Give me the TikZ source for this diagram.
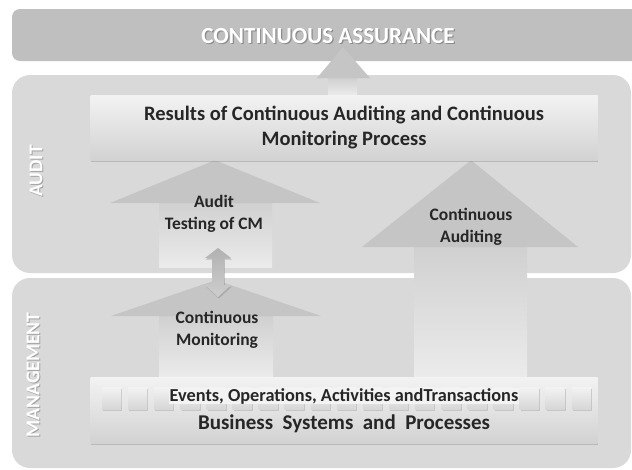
\documentclass[tikz,border=0pt]{standalone}
\usepackage{fontspec}
\setmainfont{Carlito}
\usetikzlibrary{shadows, calc}

\definecolor{bandgray}{HTML}{D9D9D9}
\definecolor{topgray}{HTML}{BFBFBF}
\definecolor{headgray}{HTML}{C5C5C5}
\definecolor{shaftgray}{HTML}{EBEBEB}
\definecolor{boxtop}{HTML}{F3F3F3}
\definecolor{boxbot}{HTML}{D2D2D2}
\definecolor{inkgray}{HTML}{262626}
\definecolor{shadegray}{HTML}{8C8C8C}

\pgfdeclarelayer{bands}
\pgfdeclarelayer{arrows}
\pgfsetlayers{bands,arrows,main}

\begin{document}
\begin{tikzpicture}[x=1pt, y=-1pt,
  band/.style={fill=bandgray, rounded corners=18pt},
  panel/.style={top color=boxtop, bottom color=boxbot, minimum width=507pt, inner sep=0pt,
    drop shadow={shadow xshift=0.5pt, shadow yshift=-2pt, opacity=0.35}},
  slot/.style={top color=boxtop, bottom color=boxbot!90!white, minimum width=19pt, minimum height=22pt, inner sep=0pt,
    drop shadow={shadow xshift=1.2pt, shadow yshift=-1.5pt, opacity=0.3}},
  arrowtxt/.style={font=\bfseries\fontsize{17.5}{22}\selectfont, text=inkgray, align=center},
  sidetxt/.style={rotate=90, font=\bfseries\fontsize{19.5}{22}\selectfont},
  headfill/.style={fill=headgray},
  shaftfill/.style={top color=headgray!70!shaftgray, bottom color=shaftgray}]

\useasboundingbox (0,0) rectangle (632,469);
\clip (0,0) rectangle (632,469);

% the three bands
\begin{pgfonlayer}{bands}
\fill[topgray, rounded corners=8pt] (12,9) rectangle (660,61);
\fill[band] (12,75) rectangle (631,273);
\fill[band] (12,278) rectangle (631,468);
\end{pgfonlayer}

% white titles with a dark copy behind them
\node[font=\bfseries\fontsize{23}{26}\selectfont, text=shadegray] (assursh) at (329.2,37.2) {CONTINUOUS ASSURANCE};
\node[font=\bfseries\fontsize{23}{26}\selectfont, text=white] (assur) at (328,36) {CONTINUOUS ASSURANCE};
\node[sidetxt, text=shadegray!80] (auditsh) at (37,172) {AUDIT};
\node[sidetxt, text=white] (audit) at (36,171) {AUDIT};
\node[sidetxt, text=shadegray!80] (mgmtsh) at (34,376) {MANAGEMENT};
\node[sidetxt, text=white] (mgmt) at (33,375) {MANAGEMENT};

% results box
\node[panel, minimum height=65pt] (res) at (344,127.5) {};
\node[arrowtxt, font=\bfseries\fontsize{20.5}{25}\selectfont] (restxt) at (res)
  {Results of Continuous Auditing and Continuous\\Monitoring Process};

% business box with its row of slots
\node[panel, minimum height=66pt] (biz) at (344,410) {};
\foreach \i in {0,...,18}
  \node[slot] (s\i) at (111.5+26.1*\i,398) {};
\node[font=\bfseries\fontsize{18.3}{20}\selectfont, text=inkgray, fill=boxtop, inner sep=0.5pt] (evt) at (344,396)
  {Events, Operations, Activities andTransactions};
\node[font=\bfseries\fontsize{21}{24}\selectfont, text=inkgray] (bsp) at (344,424)
  {Business\ \ Systems\ \ and\ \ Processes};

% block arrows
\begin{pgfonlayer}{arrows}
\shade[shaftfill] (328,78) rectangle (357,0 |- res.north);
\fill[headfill] (317,78) -- (343,0 |- assur.south) -- (370,78) -- cycle;
\fill[headfill] (343,61) -- (317,78) -- (370,78) -- cycle;

\shade[shaftfill] (159,203) rectangle (272,267);
\fill[headfill] (110,203) -- (215,0 |- res.south) -- (320,203) -- cycle;

\shade[shaftfill] (159,316) rectangle (273,0 |- biz.north);
\fill[headfill] (111,316) -- (216,280) -- (321,316) -- cycle;

\shade[shaftfill] (414,247) rectangle (527,0 |- biz.north);
\fill[headfill] (362,247) -- (471,0 |- res.south) -- (578,247) -- cycle;

\shade[top color=headgray!90!black, bottom color=headgray!85!white,
  drop shadow={shadow xshift=0.8pt, shadow yshift=-1.5pt, opacity=0.4}]
  (212,258) -- (205,258) -- (218,248) -- (231,258) -- (224,258)
  -- (224,285) -- (231,285) -- (218,297) -- (205,285) -- (212,285) -- cycle;
\end{pgfonlayer}

\node[arrowtxt] (atest) at (214,214) {Audit\\Testing of CM};
\node[arrowtxt] (cmon) at (217,330) {Continuous\\Monitoring};
\node[arrowtxt] (caud) at (471,226.5) {Continuous\\Auditing};
\end{tikzpicture}
\end{document}
